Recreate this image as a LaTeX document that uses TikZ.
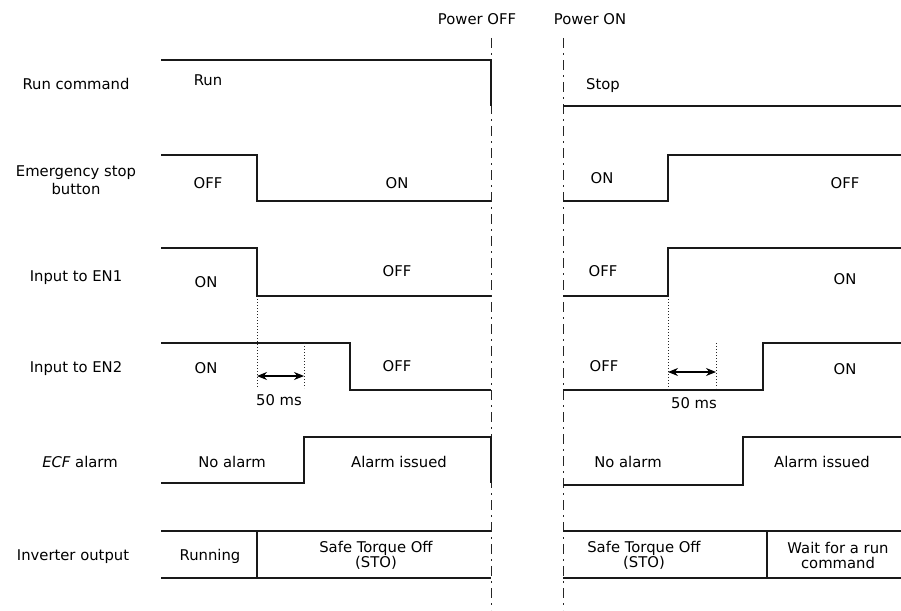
\documentclass[tikz,border=0pt]{standalone}
\usepackage{fontspec}
\setmainfont{DejaVu Sans}
\usepackage{tikz}
\usetikzlibrary{arrows.meta}

\begin{document}
\begin{tikzpicture}[x=1pt, y=-1pt, every node/.style={font=\fontsize{14.8}{15}\selectfont, inner sep=0pt},
  sig/.style={line width=1.1pt, black!90},
  cut/.style={line width=1pt, black!85, dash pattern=on 10pt off 5pt on 2pt off 5pt},
  gap/.style={line width=0.8pt, black!85, dash pattern=on 1pt off 2pt},
  span/.style={line width=1.1pt, {Stealth[length=10pt,width=8pt]}-{Stealth[length=10pt,width=8pt]}},
  lvl/.style={anchor=base}, two/.style={align=center, anchor=center}]
\useasboundingbox (0,0) rectangle (901,610);
% power off / on marks
\node[lvl] (poff) at (477,25) {Power OFF};
\node[lvl] (pon) at (590,25) {Power ON};
\draw[cut] (491,38) -- (491,610);
\draw[cut] (563,38) -- (563,610);
% signal names
\node[lvl] (nrun) at (76,89) {Run command};
\node[two] (nstop) at (76,180) {Emergency stop\\[3pt]button};
\node[lvl] (nen1) at (76,281) {Input to EN1};
\node[lvl] (nen2) at (76,372) {Input to EN2};
\node[lvl] (necf) at (80,467) {{\itshape ECF} alarm};
\node[lvl] (ninv) at (73,560) {Inverter output};
% run command
\draw[sig] (161,60) -- (491,60) -- (491,106);
\draw[sig] (563,106) -- (901,106);
\node[lvl] (run) at (208,85) {Run};
\node[lvl] (stop) at (603,89) {Stop};
% emergency stop button
\draw[sig] (161,155) -- (257,155) -- (257,201) -- (491,201);
\draw[sig] (563,201) -- (668,201) -- (668,155) -- (901,155);
\node[lvl] (b1) at (208,188) {OFF};
\node[lvl] (b2) at (397,188) {ON};
\node[lvl] (b3) at (602,183) {ON};
\node[lvl] (b4) at (845,188) {OFF};
% input to EN1
\draw[sig] (161,248) -- (257,248) -- (257,296) -- (491,296);
\draw[sig] (563,296) -- (668,296) -- (668,248) -- (901,248);
\node[lvl] (e1) at (206,287) {ON};
\node[lvl] (e2) at (397,276) {OFF};
\node[lvl] (e3) at (603,276) {OFF};
\node[lvl] (e4) at (845,284) {ON};
% input to EN2
\draw[sig] (161,343) -- (350,343) -- (350,390) -- (491,390);
\draw[sig] (563,390) -- (763,390) -- (763,343) -- (901,343);
\node[lvl] (f1) at (206,373) {ON};
\node[lvl] (f2) at (397,371) {OFF};
\node[lvl] (f3) at (604,371) {OFF};
\node[lvl] (f4) at (845,374) {ON};
% 50 ms delay
\coordinate (d1) at (257,376);
\coordinate (d2) at (304,376);
\coordinate (d3) at (668,372);
\coordinate (d4) at (716,372);
\draw[gap] (257,296) -- (257,388);
\draw[gap] (304,343) -- (304,388);
\draw[gap] (668,296) -- (668,390);
\draw[gap] (716,343) -- (716,388);
\draw[span] (d1) -- (d2);
\draw[span] (d3) -- (d4);
\node[lvl] (ms1) at (279,405) {50 ms};
\node[lvl] (ms2) at (694,408) {50 ms};
% alarm
\draw[sig] (161,483) -- (304,483) -- (304,437) -- (491,437) -- (491,483);
\draw[sig] (563,485) -- (743,485) -- (743,437) -- (901,437);
\node[lvl] (a1) at (232,467) {No alarm};
\node[lvl] (a2) at (399,467) {Alarm issued};
\node[lvl] (a3) at (628,467) {No alarm};
\node[lvl] (a4) at (822,467) {Alarm issued};
% inverter output
\draw[sig] (161,531) -- (491,531) (161,578) -- (491,578) (257,531) -- (257,578);
\draw[sig] (563,531) -- (901,531) (563,578) -- (901,578) (767,531) -- (767,578);
\node[lvl] (o1) at (210,560) {Running};
\node[two] (o2) at (376,555) {Safe Torque Off\\(STO)};
\node[two] (o3) at (644,555) {Safe Torque Off\\(STO)};
\node[two] (o4) at (838,555) {Wait for a run\\command};
\end{tikzpicture}
\end{document}
